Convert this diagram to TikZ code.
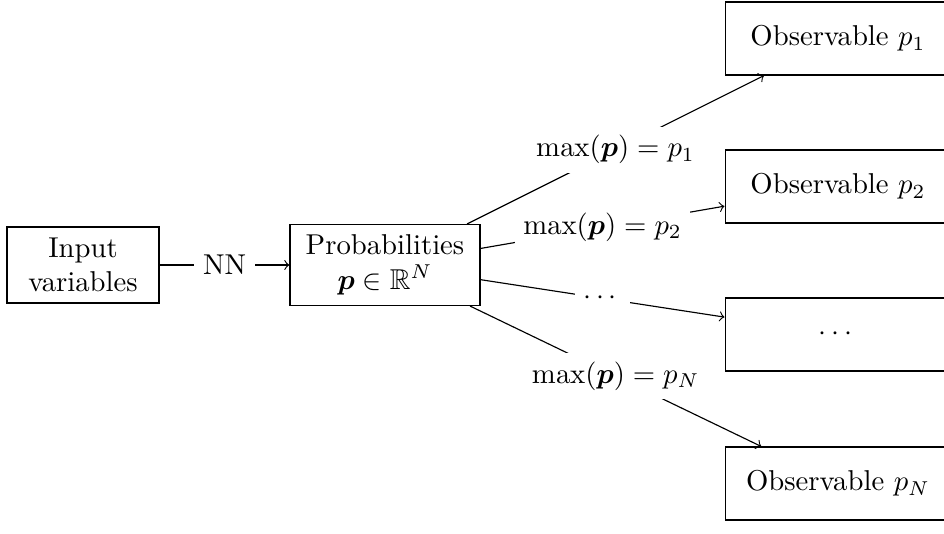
\documentclass[tikz,border=0pt]{standalone}
\usepackage{amsmath,amssymb,bm}
\begin{document}
\begin{tikzpicture}[x=0.3484pt,y=-0.3484pt,
  box/.style={draw,align=center,inner sep=3.33pt},
  lbl/.style={fill=white,inner sep=3pt}]
\useasboundingbox (0,0) rectangle (944,533);
\node[box,minimum width=53pt,minimum height=26.5pt] (in) at (83,265) {Input\\variables};
\node[box,minimum width=66.2pt,minimum height=28.2pt] (prob) at (385,265) {Probabilities\\$\bm{p}\in\mathbb{R}^N$};
\node[box,minimum width=78.7pt,minimum height=25.4pt] (o1) at (838,38.5) {Observable $p_1$};
\node[box,minimum width=78.7pt,minimum height=25.4pt] (o2) at (838,186.5) {Observable $p_2$};
\node[box,minimum width=78.7pt,minimum height=25.4pt] (o3) at (838,334.5) {$\cdots$};
\node[box,minimum width=78.7pt,minimum height=25.4pt] (o4) at (838,483.5) {Observable $p_N$};
\draw[->] (in) -- node[lbl] (nn) {NN} (prob);
\draw[->] (prob) -- node[lbl] (l1) {$\max(\bm{p}) = p_1$} (o1);
\draw[->] (prob) -- node[lbl] (l2) {$\max(\bm{p}) = p_2$} (o2);
\draw[->] (prob) -- node[lbl] (l3) {$\cdots$} (o3);
\draw[->] (prob) -- node[lbl] (l4) {$\max(\bm{p}) = p_N$} (o4);
\end{tikzpicture}
\end{document}
